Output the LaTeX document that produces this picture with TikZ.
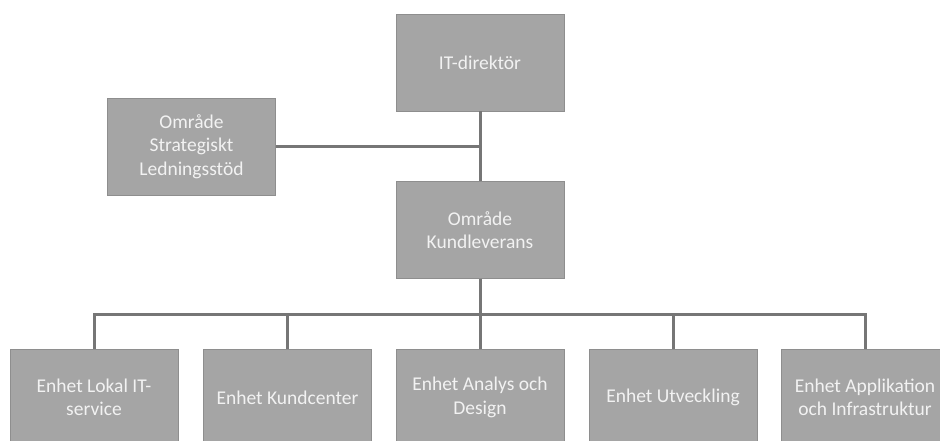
\documentclass[tikz,border=0pt]{standalone}
\usepackage{fontspec}
\setmainfont{Carlito}
\usetikzlibrary{positioning}

\definecolor{boxgray}{HTML}{A5A5A5}
\definecolor{boxedge}{HTML}{8E8E8E}
\definecolor{boxtext}{HTML}{F2F2F2}
\definecolor{linkgray}{HTML}{767676}

\begin{document}
\begin{tikzpicture}[x=1pt,y=-1pt,
  orgbox/.style={draw=boxedge, line width=0.8pt, fill=boxgray, text=boxtext,
    minimum width=168pt, minimum height=97pt, inner sep=0pt, align=center,
    font=\fontsize{19.5}{23.5}\selectfont},
  link/.style={draw=linkgray, line width=3pt}]
% Picture size
\useasboundingbox (0,0) rectangle (940,441);
\clip (0,0) rectangle (940,441);

% Row heights (centres of the boxes)
\def\topY{62.5}
\def\midY{230}
\def\unitY{397.5}
\def\barY{314}

% Top part
\node[orgbox] (dir) at (480,\topY) {IT-direktör};
\node[orgbox] (strat) at (191.5,146.5) {Område\\Strategiskt\\Ledningsstöd};
\node[orgbox] (kund) at (480,\midY) {Område\\Kundleverans};

% Units
\node[orgbox] (lokal) at (94,\unitY) {Enhet Lokal IT-\\service};
\node[orgbox] (center) at (287.5,\unitY) {Enhet Kundcenter};
\node[orgbox] (analys) at (480,\unitY) {Enhet Analys och\\Design};
\node[orgbox] (utv) at (673,\unitY) {Enhet Utveckling};
\node[orgbox] (appl) at (865,\unitY) {Enhet Applikation\\och Infrastruktur};

% Connectors
\coordinate (bar) at (480,\barY);
\draw[link] (dir) -- (kund);
\draw[link] (strat) -- (strat -| dir);
\draw[link] (kund) -- (analys);
\draw[link] (kund.south |- bar) -| (lokal);
\draw[link] (kund.south |- bar) -| (center);
\draw[link] (kund.south |- bar) -| (utv);
\draw[link] (kund.south |- bar) -| (appl);
\end{tikzpicture}
\end{document}
